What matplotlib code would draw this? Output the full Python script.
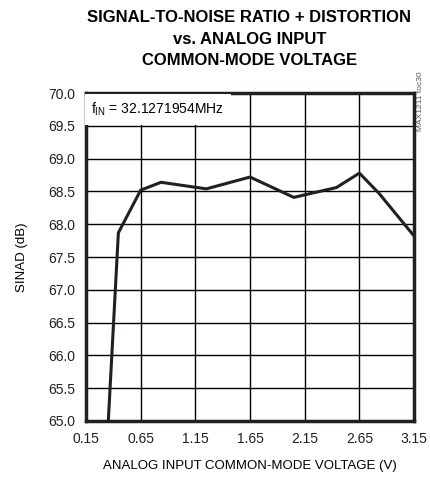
import matplotlib
matplotlib.use('Agg')
import matplotlib.pyplot as plt

# values
vcm = [0.354, 0.446, 0.65, 0.836, 1.25, 1.65, 2.05, 2.44, 2.65, 2.83, 3.15]
sinad = [65.0, 67.87, 68.52, 68.64, 68.54, 68.72, 68.41, 68.56, 68.78, 68.47, 67.82]

xticks = [0.15, 0.65, 1.15, 1.65, 2.15, 2.65, 3.15]
yticks = [65.0, 65.5, 66.0, 66.5, 67.0, 67.5, 68.0, 68.5, 69.0, 69.5, 70.0]

plt.rcParams['font.family'] = ['Liberation Sans', 'DejaVu Sans']

fig = plt.figure(figsize=(4.3, 4.8), dpi=100)
ax = fig.add_axes([0.2, 0.123, 0.763, 0.683])

ax.plot(vcm, sinad, color='#231f20', lw=2.2, zorder=3)

ax.set_xlim(0.15, 3.15)
ax.set_ylim(65.0, 70.0)
ax.set_xticks(xticks)
ax.set_xticklabels(['%.2f' % t for t in xticks])
ax.set_yticks(yticks)
ax.set_yticklabels(['%.1f' % t for t in yticks])
ax.tick_params(length=0, labelsize=10, pad=8, colors='#231f20')
ax.grid(True, color='black', lw=1.0)
ax.set_axisbelow(True)
for s in ax.spines.values():
    s.set_linewidth(2.5)
    s.set_color('#231f20')

ax.set_xlabel('ANALOG INPUT COMMON-MODE VOLTAGE (V)', fontsize=9.5, labelpad=10)
ax.set_ylabel('SINAD (dB)', fontsize=9.5, labelpad=14)

ax.text(0.2, 69.75, r'f$_{\mathregular{IN}}$ = 32.1271954MHz', fontsize=10,
        va='center', ha='left', zorder=4,
        bbox=dict(facecolor='white', edgecolor='none', pad=5))

fig.text(0.978, 0.79, 'MAX1211 toc30', rotation=90, fontsize=6,
         color='#555555', ha='center', va='center')

fig.text(0.58, 0.918, 'SIGNAL-TO-NOISE RATIO + DISTORTION\nvs. ANALOG INPUT\nCOMMON-MODE VOLTAGE',
         ha='center', va='center', fontsize=12, fontweight='bold',
         linespacing=1.55, color='black')

fig.savefig('out.png', dpi=100)
